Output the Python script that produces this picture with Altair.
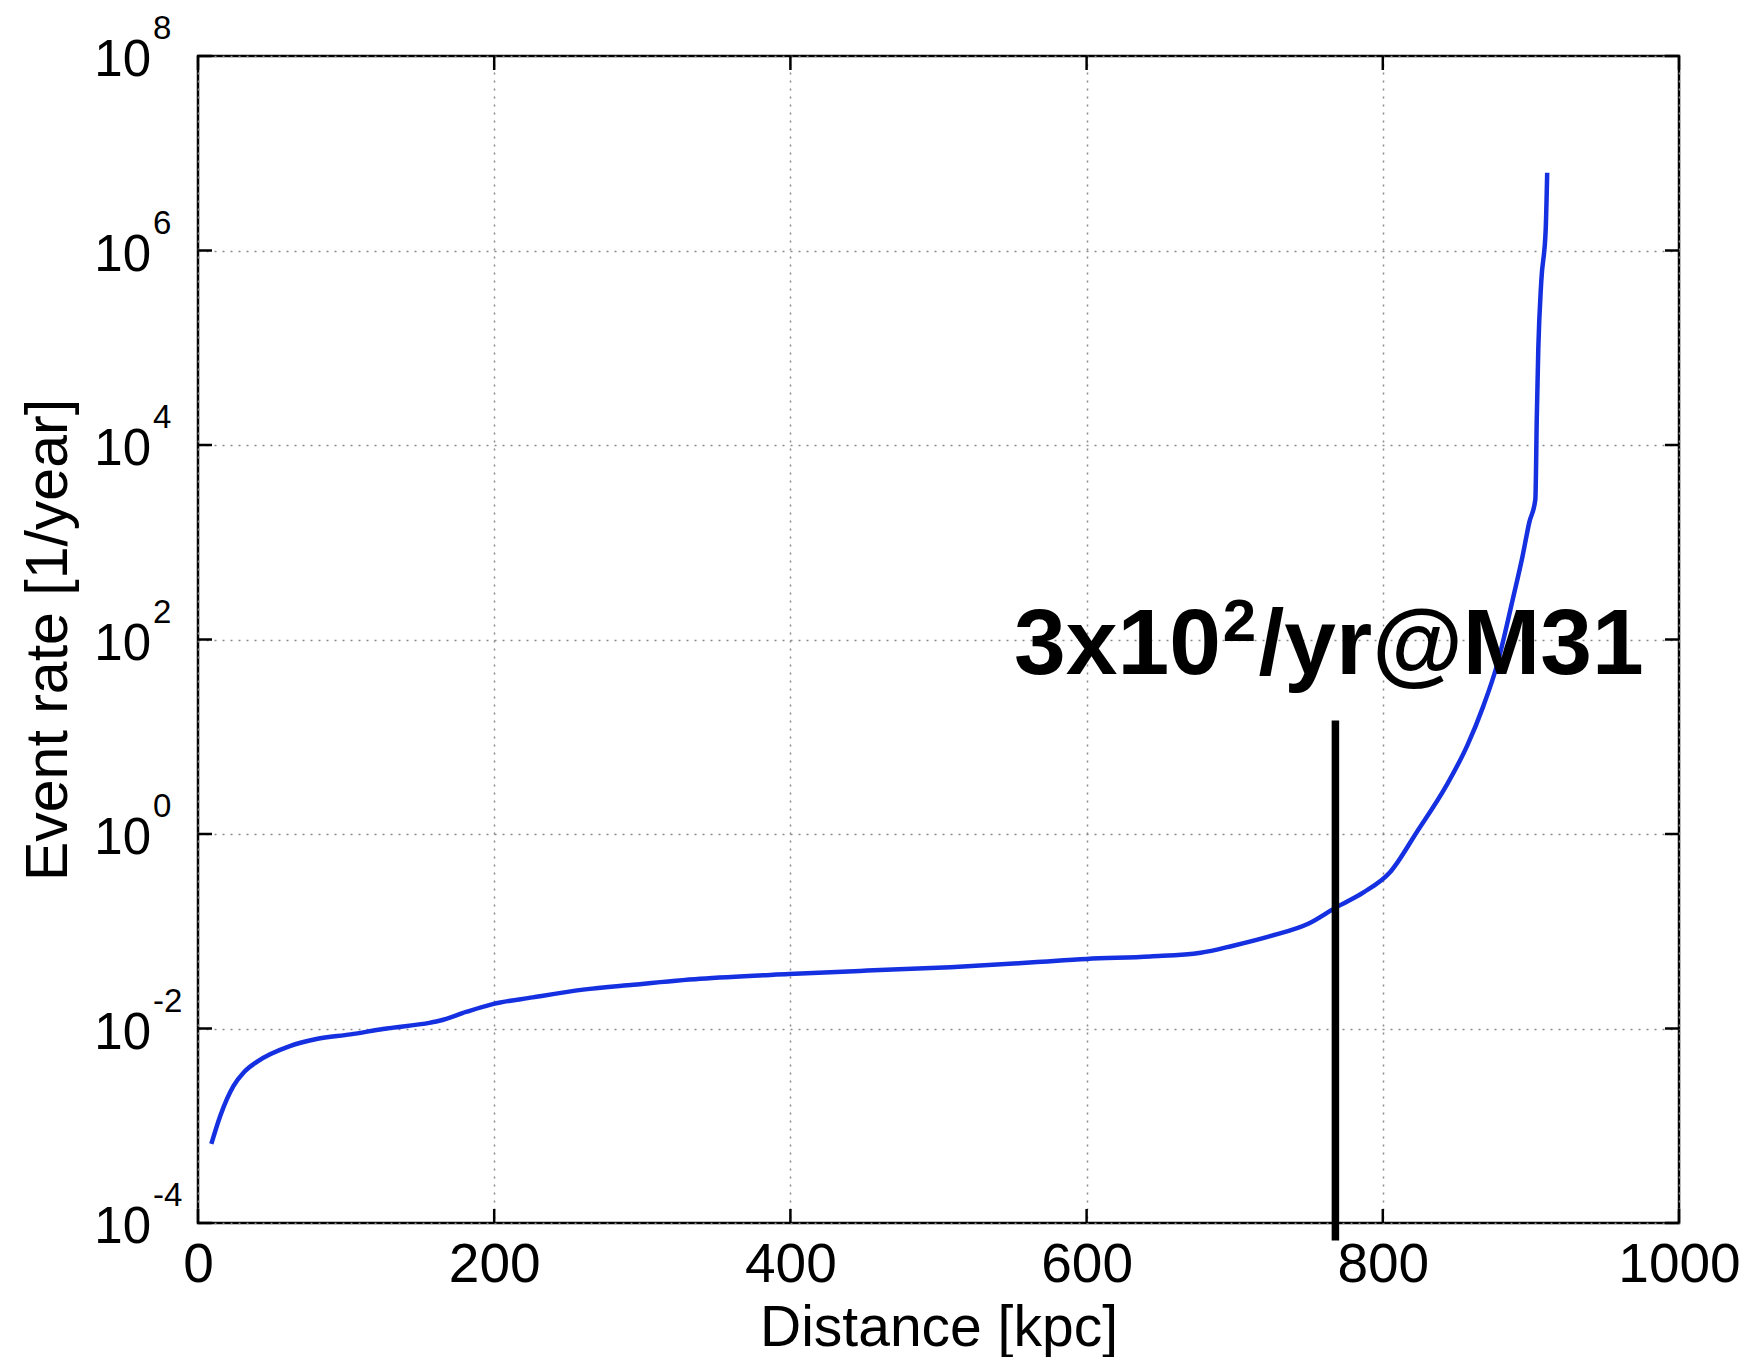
import altair as alt
import pandas as pd

# ---- data ----
distance_kpc = [9, 15, 24, 31, 40, 62, 80, 103, 125, 157, 163, 181, 199, 226, 260,
                294, 339, 399, 452, 508, 564, 600, 643, 677, 699, 724, 750, 769, 787, 805,
                823, 843, 857, 868, 877, 888, 894, 899, 903, 904, 905, 907, 910, 911]
event_rate = [6.5e-4, 1.26e-3, 2.57e-3, 3.55e-3, 4.57e-3, 6.6e-3, 7.8e-3, 8.7e-3, 9.9e-3, 1.15e-2,
              1.2e-2, 1.48e-2, 1.78e-2, 2.09e-2, 2.51e-2, 2.82e-2, 3.24e-2, 3.63e-2, 3.94e-2, 4.27e-2,
              4.79e-2, 5.19e-2, 5.5e-2, 6.0e-2, 7.1e-2, 8.9e-2, 0.12, 0.178, 0.251, 0.407,
              1.05, 3.16, 8.1, 20.9, 53.7, 269, 676, 1620, 2750, 2.0e4,
              9.8e4, 4.8e5, 1.66e6, 6.3e6]

x_ticks = [0, 200, 400, 600, 800, 1000]
y_tick_values = [1e-4, 1e-2, 1, 1e2, 1e4, 1e6, 1e8]
y_tick_exponents = ["-4", "-2", "0", "2", "4", "6", "8"]

m31_distance = [768]
m31_top = [14.7]
m31_bottom = [6.6e-5]

annot_text = ["3x10", "2", "/yr@M31"]
annot_x = [551, 692, 716]
annot_y = [44.2, 96.6, 44.2]
annot_size = [93, 60, 93]

# ---- layout / style ----
W, H = 1481, 1167
FONT = "Liberation Sans"
TICK = 14

xs = alt.Scale(domain=[0, 1000], nice=False, zero=False)
ys = alt.Scale(type="log", domain=[1e-4, 1e8], nice=False)

curve_df = pd.DataFrame({"d": distance_kpc, "r": event_rate})
ytick_df = pd.DataFrame({"v": y_tick_values, "e": y_tick_exponents})
xtick_df = pd.DataFrame({"t": x_ticks})
m31_df = pd.DataFrame({"d": m31_distance, "top": m31_top, "bottom": m31_bottom})
annot_df = pd.DataFrame({"txt": annot_text, "x": annot_x, "y": annot_y, "fs": annot_size})

grid_kw = dict(grid=True, gridDash=[2, 6], gridColor="#8a8a8a", gridWidth=1.5, gridOpacity=1)

x_axis = alt.Axis(
    values=x_ticks, format="d", title="Distance [kpc]",
    ticks=False, tickSize=0, domain=False, labelFlush=False, labelOverlap=False,
    labelFontSize=55, labelFont=FONT, labelColor="black", labelPadding=15,
    titleFontSize=57, titleFont=FONT, titleFontWeight="normal", titleColor="black",
    titleX=W / 2, titleY=122, titleBaseline="alphabetic", titleAlign="center",
    **grid_kw)
y_axis = alt.Axis(
    values=y_tick_values, title="Event rate [1/year]",
    labels=False, ticks=False, tickSize=0, domain=False,
    titleFontSize=59, titleFont=FONT, titleFontWeight="normal", titleColor="black",
    titleX=-132, titleY=H / 2, titleAngle=270, titleBaseline="alphabetic",
    titleAlign="center",
    **grid_kw)


def X(field):
    return alt.X(field, scale=xs, axis=x_axis)


def Y(field):
    return alt.Y(field, scale=ys, axis=y_axis)


curve = alt.Chart(curve_df).mark_line(
    color="#1430e0", strokeWidth=4.5, interpolate="monotone").encode(
    x=X("d:Q"), y=Y("r:Q"))

ylab_base = alt.Chart(ytick_df).mark_text(
    text="10", align="right", baseline="alphabetic", fontSize=51, font=FONT,
    dy=20, color="black").encode(x=alt.value(-47), y=Y("v:Q"))

ylab_exp = alt.Chart(ytick_df).mark_text(
    align="left", baseline="alphabetic", fontSize=33, font=FONT,
    dy=-17, color="black").encode(x=alt.value(-45), y=Y("v:Q"), text="e:N")

ytick_left = alt.Chart(ytick_df).mark_rule(color="black", strokeWidth=2.5).encode(
    y=Y("v:Q"), x=alt.value(0), x2=alt.value(TICK))
ytick_right = alt.Chart(ytick_df).mark_rule(color="black", strokeWidth=2.5).encode(
    y=Y("v:Q"), x=alt.value(W - TICK), x2=alt.value(W))
xtick_bottom = alt.Chart(xtick_df).mark_rule(color="black", strokeWidth=2.5).encode(
    x=X("t:Q"), y=alt.value(H), y2=alt.value(H - TICK))
xtick_top = alt.Chart(xtick_df).mark_rule(color="black", strokeWidth=2.5).encode(
    x=X("t:Q"), y=alt.value(0), y2=alt.value(TICK))

m31_line = alt.Chart(m31_df).mark_rule(color="black", strokeWidth=7.5, strokeCap="butt").encode(
    x=X("d:Q"), y=Y("top:Q"), y2="bottom:Q")

annot = alt.Chart(annot_df).mark_text(
    align="left", baseline="alphabetic", font=FONT, fontWeight="bold", color="black").encode(
    x=X("x:Q"), y=Y("y:Q"),
    text="txt:N",
    size=alt.Size("fs:Q", scale=None, legend=None))

chart = alt.layer(
    curve, ytick_left, ytick_right, xtick_bottom, xtick_top,
    ylab_base, ylab_exp, m31_line, annot
).properties(
    width=W, height=H,
    autosize=alt.AutoSizeParams(type="none"),
    padding={"left": 190, "top": 48, "right": 62, "bottom": 134},
    background="white",
).configure_view(stroke="black", strokeWidth=2.5)

chart.save("out.html", embed_options={"renderer": "svg", "actions": False})
